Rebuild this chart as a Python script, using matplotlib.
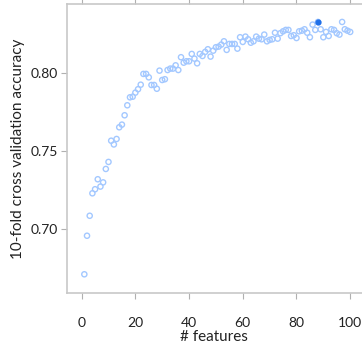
import matplotlib.pyplot as plt
import numpy as np

plt.rcParams['font.family'] = ['Lato', 'DejaVu Sans']

# number of features and 10-fold CV accuracy
n_feat = list(range(1, 101))
acc = [0.6708, 0.6955, 0.7083, 0.7227, 0.7253, 0.7317, 0.7270, 0.7297, 0.7383, 0.7428,
       0.7564, 0.7540, 0.7575, 0.7650, 0.7667, 0.7727, 0.7791, 0.7842, 0.7846, 0.7872,
       0.7894, 0.7923, 0.7992, 0.7992, 0.7970, 0.7921, 0.7921, 0.7897, 0.8013, 0.7953,
       0.7958, 0.8017, 0.8026, 0.8026, 0.8047, 0.8017, 0.8099, 0.8064, 0.8073, 0.8073,
       0.8120, 0.8090, 0.8060, 0.8120, 0.8107, 0.8133, 0.8150, 0.8103, 0.8141, 0.8163,
       0.8167, 0.8180, 0.8201, 0.8146, 0.8184, 0.8184, 0.8184, 0.8154, 0.8227, 0.8197,
       0.8231, 0.8214, 0.8192, 0.8201, 0.8231, 0.8218, 0.8214, 0.8244, 0.8201, 0.8210,
       0.8214, 0.8256, 0.8218, 0.8253, 0.8265, 0.8274, 0.8274, 0.8235, 0.8240, 0.8222,
       0.8265, 0.8269, 0.8278, 0.8256, 0.8227, 0.8308, 0.8274, 0.8325, 0.8278, 0.8227,
       0.8261, 0.8235, 0.8278, 0.8274, 0.8253, 0.8244, 0.8325, 0.8278, 0.8269, 0.8261]
best = 88

fig = plt.figure(figsize=(3.62, 3.45), dpi=100)
ax = fig.add_axes([0.184, 0.1507, 0.816, 0.8377])

x = np.array(n_feat)
y = np.array(acc)
ax.scatter(x, y, s=14, facecolors='none', edgecolors='#a3c8ff', linewidths=1.0, zorder=2)
i = n_feat.index(best)
ax.scatter([x[i]], [y[i]], s=12, color='#1f6fe8', zorder=3)

ax.set_xlim(-5.6, 104.4)
ax.set_ylim(0.6588, 0.844)
ax.set_xticks([0, 20, 40, 60, 80, 100])
ax.set_yticks([0.70, 0.75, 0.80])
ax.set_yticklabels(['0.70', '0.75', '0.80'])

for s in ['left', 'bottom', 'top']:
    ax.spines[s].set_color('#c8c8c8')
    ax.spines[s].set_linewidth(1.2)
ax.spines['right'].set_visible(False)

ax.tick_params(axis='x', which='both', top=True, direction='out', length=4,
               color='#b0b0b0', pad=13, labelsize=10, labelcolor='#222222')
ax.tick_params(axis='y', direction='out', length=4, color='#b0b0b0', pad=2,
               labelsize=10, labelcolor='#222222')

ax.set_xlabel('# features', fontsize=11, color='#222222', labelpad=1)
ax.set_ylabel('10-fold cross validation accuracy', fontsize=11, color='#222222', labelpad=4)

fig.savefig('out.png', dpi=100)
